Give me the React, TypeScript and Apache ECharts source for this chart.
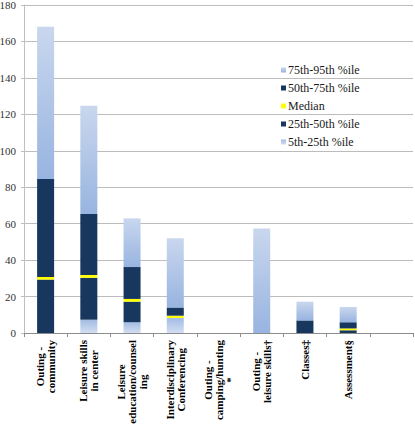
import React, { useEffect, useRef } from "react";
import * as echarts from "echarts";

const categories = [
  "Outing -\ncommunity",
  "Leisure skills\nin center",
  "Leisure\neducation/counsel\ning",
  "Interdisciplinary\nConferencing",
  "Outing -\ncamping/hunting\n*",
  "Outing -\nleisure skills†",
  "Classes‡",
  "Assessment§",
  "",
];

const p5to25 = [0, 7.3, 5.9, 8.3, 0, 0, 0, 0, 0];
const p25to50 = [29.3, 23, 11.3, 0, 0, 0, 6.9, 1.5, 0];
const median = [1.5, 1.5, 1.5, 1.2, 0, 0, 0, 1, 0];
const p50to75 = [53.7, 33.5, 17.5, 4.5, 0, 0, 0, 3.4, 0];
const p75to95 = [83.5, 59.4, 26.7, 38, 0, 57.4, 10.3, 8.4, 0];

const legendOrder = ["75th-95th %ile", "50th-75th %ile", "Median", "25th-50th %ile", "5th-25th %ile"];

const yTicks = { min: 0, max: 180, interval: 20 };

const FONT = "Liberation Serif";
const NAVY = "#17375e";

export default function App() {
  const ref = useRef<HTMLDivElement>(null);

  useEffect(() => {
    if (!ref.current) return;
    const chart = echarts.init(ref.current, undefined, { renderer: "svg" });

    const lightTop = new echarts.graphic.LinearGradient(0, 0, 0, 1, [
      { offset: 0, color: "#c9d7ee" },
      { offset: 1, color: "#98b4e0" },
    ]);
    const lightBottom = new echarts.graphic.LinearGradient(0, 0, 0, 1, [
      { offset: 0, color: "#a3bce3" },
      { offset: 1, color: "#d2def2" },
    ]);

    const base = {
      type: "bar" as const,
      stack: "p",
      barWidth: 17,
    };

    chart.setOption({
      animation: false,
      textStyle: { fontFamily: FONT },
      grid: { left: 24, right: 2, top: 5, bottom: 106, containLabel: false, outerBoundsMode: "none" },
      legend: {
        orient: "vertical",
        left: 276,
        top: 59,
        itemWidth: 5,
        itemHeight: 5,
        itemGap: 6,
        icon: "rect",
        data: legendOrder,
        textStyle: {
          fontFamily: FONT,
          fontSize: 12,
          color: "#1a1a1a",
          padding: [0, 0, 0, -3],
        },
      },
      xAxis: {
        type: "category",
        data: categories,
        axisLine: { show: true, lineStyle: { color: "#8c8c8c", width: 1 } },
        axisTick: { show: true, length: 4, lineStyle: { color: "#8c8c8c" } },
        axisLabel: {
          interval: 0,
          rotate: 90,
          margin: 7,
          color: "#000",
          fontFamily: FONT,
          fontWeight: "bold",
          fontSize: 11,
          formatter: (v: string) =>
            v
              .split("\n")
              .map((l) => `{c|${l}}`)
              .join("\n"),
          rich: {
            c: {
              align: "center",
              fontFamily: FONT,
              fontWeight: "bold",
              fontSize: 11,
              lineHeight: 11,
              color: "#000",
            },
          },
        },
      },
      yAxis: {
        type: "value",
        min: yTicks.min,
        max: yTicks.max,
        interval: yTicks.interval,
        axisLine: { show: true, lineStyle: { color: "#bfbfbf" } },
        axisTick: { show: true, length: 3, lineStyle: { color: "#bfbfbf" } },
        axisLabel: {
          fontFamily: FONT,
          fontSize: 11,
          color: "#333",
          margin: 8,
        },
        splitLine: { lineStyle: { color: "#bcbcbc", width: 1 } },
      },
      series: [
        { ...base, name: "5th-25th %ile", data: p5to25, itemStyle: { color: lightBottom } },
        { ...base, name: "25th-50th %ile", data: p25to50, itemStyle: { color: NAVY } },
        { ...base, name: "Median", data: median, itemStyle: { color: "#ffff00" } },
        { ...base, name: "50th-75th %ile", data: p50to75, itemStyle: { color: NAVY } },
        { ...base, name: "75th-95th %ile", data: p75to95, itemStyle: { color: lightTop } },
      ],
    });

    return () => chart.dispose();
  }, []);

  return (
    <div
      ref={ref}
      style={{ position: "fixed", left: 0, top: 0, width: 415, height: 439, background: "#fff" }}
    />
  );
}
